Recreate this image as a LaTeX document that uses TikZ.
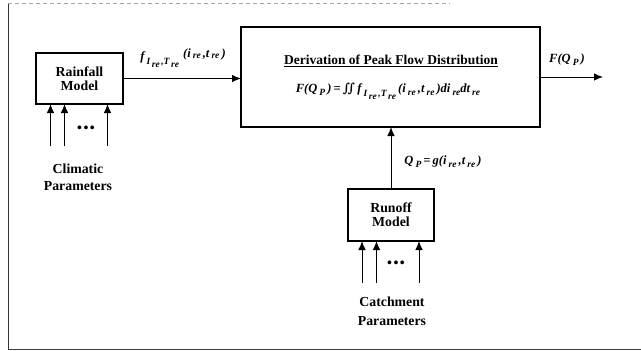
\documentclass[tikz,border=0pt]{standalone}
\usepackage{fontspec}
\setmainfont{Liberation Serif}
\newfontfamily\symfam{DejaVu Serif}
\usetikzlibrary{arrows.meta}
\newcommand{\lbl}{\fontsize{13.8}{15}\selectfont\bfseries}
\newcommand{\mth}{\fontsize{12.5}{14}\selectfont\bfseries\itshape}
\newcommand{\dn}[2][3pt]{\raisebox{-#1}{\fontsize{9.5}{10}\selectfont #2}}
\begin{document}
\begin{tikzpicture}[x=1pt,y=-1pt,
  box/.style={draw, line width=1.1pt, inner sep=0pt, outer sep=0pt, align=center, font=\lbl},
  arr/.style={-{Latex[length=9pt,width=7.5pt]}, line width=0.9pt},
  txt/.style={inner sep=0pt, align=center, font=\lbl},
  mlab/.style={inner sep=0pt, font=\mth}]
\useasboundingbox (0,0) rectangle (641,351);
% frame
\draw[line width=0.9pt, black!80] (8,3) -- (8,349.5);
\draw[line width=1.6pt, black!75] (8,349.5) -- (641,349.5);
\draw[line width=0.6pt, black!35, dash pattern=on 4pt off 3pt] (8,3.5) -- (450,3.5);

% boxes
\node[box, minimum width=87pt, minimum height=51pt] (rain) at (79.5,78.5) {Rainfall\\[-1pt]Model};
\node[box, minimum width=299pt, minimum height=100pt] (main) at (390.5,77) {};
\node[box, minimum width=86pt, minimum height=52pt] (run) at (391,215) {Runoff\\[-1pt]Model};

% texts in main box
\node[txt, font=\fontsize{13.5}{15}\selectfont\bfseries] (title) at (391,61) {\underline{Derivation of Peak Flow Distribution}};
\node[mlab] (formula) at (388,91) {F(Q\,\dn{P}\,)\,=\,{\symfam\bfseries ∬}\,f\,\dn[4pt]{I\,\dn{re}\,,T\,\dn{re}}\,(i\,\dn{re}\,,t\,\dn{re}\,)di\,\dn{re}dt\,\dn{re}};

% input labels
\node[txt] (clim) at (78,177) {Climatic\\[2pt]Parameters};
\node[txt] (catch) at (392,311) {Catchment\\[4pt]Parameters};
\node[txt, font=\fontsize{14}{14}\selectfont\bfseries] (dots1) at (86,129) {•\hspace{1.5pt}•\hspace{1.5pt}•};
\node[txt, font=\fontsize{14}{14}\selectfont\bfseries] (dots2) at (396,264) {•\hspace{1.5pt}•\hspace{1.5pt}•};

% input arrows
\coordinate (a1) at (50.5,146);
\coordinate (a2) at (64.5,146);
\coordinate (a3) at (107.5,146);
\coordinate (b1) at (362,283);
\coordinate (b2) at (376.5,283);
\coordinate (b3) at (419,283);
\foreach \c in {a1,a2,a3} \draw[arr] (\c) -- (\c |- rain.south);
\foreach \c in {b1,b2,b3} \draw[arr] (\c) -- (\c |- run.south);

% main connectors
\draw[arr] (rain.east) -- (rain.east -| main.west);
\coordinate (out) at (603,77);
\draw[arr] (main.east) -- (out);
\draw[arr] (run.north) -- (run.north |- main.south);

% connector labels
\node[mlab] (l1) at (183,58) {f\,\dn[4pt]{I\,\dn{re}\,,T\,\dn{re}}\,\,\raisebox{3pt}{(i\,\dn[1.5pt]{re}\,,t\,\dn[1.5pt]{re}\,)}};
\node[mlab] (l2) at (567,60) {F(Q\,\dn{P}\,)};
\node[mlab] (l3) at (443,162) {Q\,\dn{P}\,=\,g(i\,\dn{re}\,,t\,\dn{re}\,)};
\end{tikzpicture}
\end{document}
